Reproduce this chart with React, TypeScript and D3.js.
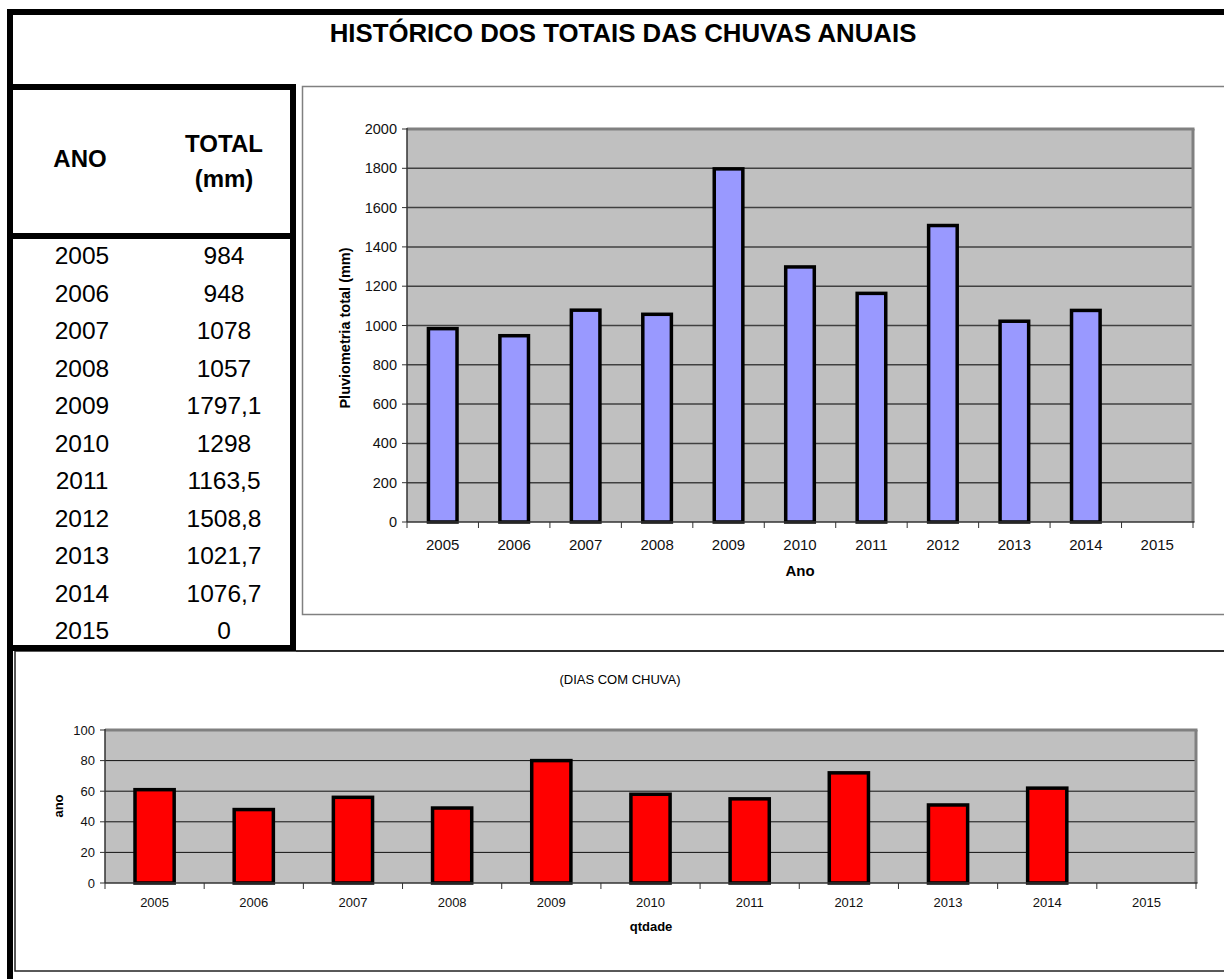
import React from 'react';
import * as d3 from 'd3';

const years = ['2005', '2006', '2007', '2008', '2009', '2010', '2011', '2012', '2013', '2014', '2015'];
const totalRain = [984, 948, 1078, 1057, 1797.1, 1298, 1163.5, 1508.8, 1021.7, 1076.7, 0];
const rainDays = [61, 48, 56, 49, 80, 58, 55, 72, 51, 62, 0];
const rainTicks = [0, 200, 400, 600, 800, 1000, 1200, 1400, 1600, 1800, 2000];
const dayTicks = [0, 20, 40, 60, 80, 100];

const FONT = '"Liberation Sans", Arial, sans-serif';
const fmtComma = (v: number) => String(v).replace('.', ',');

function BarChart(props: {
  values: number[];
  ticks: number[];
  x0: number; x1: number; yTop: number; yBot: number;
  max: number; fill: string; barFrac: number;
  tickFont: number; xFont: number; xLabelY: number;
  gridColor: string; gridWidth: number; barStroke: number;
}) {
  const { values, ticks, x0, x1, yTop, yBot, max, fill, barFrac, tickFont, xFont, xLabelY, gridColor, gridWidth, barStroke } = props;
  const x = d3.scaleBand<string>().domain(years).range([x0, x1]).padding(0);
  const y = d3.scaleLinear().domain([0, max]).range([yBot, yTop]);
  const bw = x.bandwidth() * barFrac;
  return (
    <g>
      <rect x={x0} y={yTop} width={x1 - x0} height={yBot - yTop} fill="#C0C0C0" />
      {ticks.filter(t => t > 0 && t < max).map(t => (
        <line key={t} x1={x0} x2={x1} y1={y(t)} y2={y(t)} stroke={gridColor} strokeWidth={gridWidth} />
      ))}
      <line x1={x0} x2={x1 + 1.5} y1={yTop} y2={yTop} stroke="#808080" strokeWidth={3} />
      <line x1={x1} x2={x1} y1={yTop} y2={yBot} stroke="#808080" strokeWidth={3} />
      {values.map((v, i) => v > 0 && (
        <rect key={i}
          x={(x(years[i]) as number) + (x.bandwidth() - bw) / 2}
          y={y(v)} width={bw} height={yBot - y(v)}
          fill={fill} stroke="#000" strokeWidth={barStroke} />
      ))}
      <line x1={x0} x2={x0} y1={yTop - 1} y2={yBot} stroke="#333" strokeWidth={1.5} />
      <line x1={x0} x2={x1 + 1.5} y1={yBot} y2={yBot} stroke="#333" strokeWidth={1.5} />
      {ticks.map(t => (
        <g key={t}>
          <line x1={x0 - 5} x2={x0} y1={y(t)} y2={y(t)} stroke="#333" strokeWidth={1} />
          <text x={x0 - 10} y={y(t)} dy="0.35em" textAnchor="end" fontSize={tickFont} fontFamily={FONT} fill="#111">{t}</text>
        </g>
      ))}
      {years.map((yr, i) => (
        <g key={yr}>
          <line x1={x(yr) as number} x2={x(yr) as number} y1={yBot} y2={yBot + 6} stroke="#333" strokeWidth={1} />
          {i === years.length - 1 && (
            <line x1={x1} x2={x1} y1={yBot} y2={yBot + 6} stroke="#333" strokeWidth={1} />
          )}
          <text x={(x(yr) as number) + x.bandwidth() / 2} y={xLabelY} textAnchor="middle" fontSize={xFont} fontFamily={FONT} fill="#111">{yr}</text>
        </g>
      ))}
    </g>
  );
}

export default function App() {
  const rowY = d3.scalePoint<string>().domain(years).range([264, 639]);
  return (
    <svg width={1224} height={979} style={{ position: 'absolute', left: 0, top: 0, background: '#fff' }}>
      {/* chart boxes */}
      <rect x={302.5} y={86.5} width={940} height={528} fill="none" stroke="#808080" strokeWidth={1.5} />
      <rect x={15} y={651} width={1230} height={320} fill="none" stroke="#222" strokeWidth={1.5} />

      {/* frame */}
      <line x1={7} x2={1224} y1={12} y2={12} stroke="#000" strokeWidth={6} />
      <line x1={10} x2={10} y1={9} y2={979} stroke="#000" strokeWidth={6} />
      <line x1={7} x2={296} y1={87} y2={87} stroke="#000" strokeWidth={6} />
      <line x1={293} x2={293} y1={84} y2={651} stroke="#000" strokeWidth={6} />
      <line x1={7} x2={296} y1={236} y2={236} stroke="#000" strokeWidth={6} />
      <line x1={7} x2={296} y1={648} y2={648} stroke="#000" strokeWidth={6} />
      <line x1={296} x2={1224} y1={651} y2={651} stroke="#222" strokeWidth={1.5} />

      <text x={623} y={42} textAnchor="middle" fontSize={25.8} fontWeight="bold" fontFamily={FONT}>HISTÓRICO DOS TOTAIS DAS CHUVAS ANUAIS</text>

      {/* table */}
      <text x={80} y={167} textAnchor="middle" fontSize={24} fontWeight="bold" fontFamily={FONT}>ANO</text>
      <text x={224} y={152} textAnchor="middle" fontSize={24} fontWeight="bold" fontFamily={FONT}>TOTAL</text>
      <text x={224} y={187} textAnchor="middle" fontSize={24} fontWeight="bold" fontFamily={FONT}>(mm)</text>
      {years.map((yr, i) => (
        <g key={yr}>
          <text x={82} y={rowY(yr)} textAnchor="middle" fontSize={24.5} fontFamily={FONT}>{yr}</text>
          <text x={224} y={rowY(yr)} textAnchor="middle" fontSize={24.5} fontFamily={FONT}>{fmtComma(totalRain[i])}</text>
        </g>
      ))}

      {/* top chart */}
      <BarChart values={totalRain} ticks={rainTicks} x0={407} x1={1193} yTop={129} yBot={522} max={2000}
        fill="#9999FF" barFrac={0.4} tickFont={14.5} xFont={15} xLabelY={550}
        gridColor="#404040" gridWidth={1.5} barStroke={3.5} />
      <text transform="translate(350,328) rotate(-90)" textAnchor="middle" fontSize={14.5} fontWeight="bold" fontFamily={FONT}>Pluviometria total  (mm)</text>
      <text x={800} y={576} textAnchor="middle" fontSize={15} fontWeight="bold" fontFamily={FONT}>Ano</text>

      {/* bottom chart */}
      <text x={620} y={684} textAnchor="middle" fontSize={13} fontFamily={FONT}>(DIAS COM CHUVA)</text>
      <BarChart values={rainDays} ticks={dayTicks} x0={105} x1={1196} yTop={730} yBot={883} max={100}
        fill="#FF0000" barFrac={0.395} tickFont={13} xFont={13} xLabelY={907}
        gridColor="#111" gridWidth={1} barStroke={3.5} />
      <text transform="translate(63,806) rotate(-90)" textAnchor="middle" fontSize={13} fontWeight="bold" fontFamily={FONT}>ano</text>
      <text x={651} y={931} textAnchor="middle" fontSize={13} fontWeight="bold" fontFamily={FONT}>qtdade</text>
    </svg>
  );
}
